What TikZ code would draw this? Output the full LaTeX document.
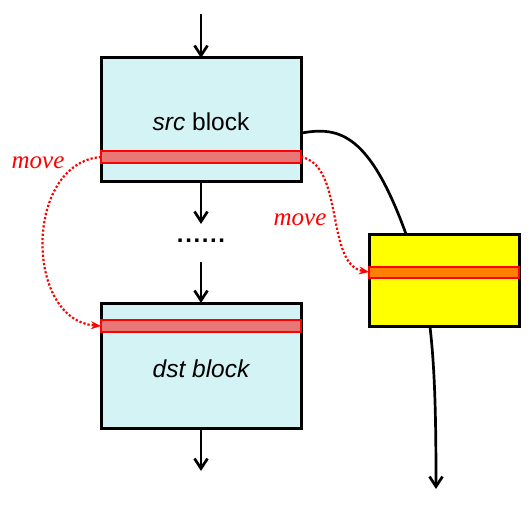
\documentclass[tikz,border=0pt]{standalone}
\usepackage{fontspec}
\setmainfont{Liberation Sans}
\newfontfamily\serifit{Liberation Serif}
\usetikzlibrary{arrows.meta}
\definecolor{boxcyan}{HTML}{D4F3F5}
\definecolor{stripred}{HTML}{E87878}
\definecolor{stripor}{HTML}{FF8000}
\definecolor{pureyellow}{HTML}{FFFF00}
\begin{document}
\begin{tikzpicture}[x=1pt,y=-1pt,
  blockbox/.style={draw=black,line width=3pt,fill=boxcyan},
  yelbox/.style={draw=black,line width=3pt,fill=pureyellow},
  strip/.style={draw=red,line width=1.3pt,fill=stripred},
  ostrip/.style={draw=red,line width=1.3pt,fill=stripor},
  flow/.style={line width=2.7pt,-{Straight Barb[length=10pt,width=13pt,line width=2.7pt]}},
  plainflow/.style={line width=2.7pt},
  mv/.style={red,line width=2.2pt,dotted,-{Stealth[length=10pt,width=8pt]}},
  mvlabel/.style={red,font=\fontsize{25}{28}\selectfont\serifit\itshape},
  lbl/.style={font=\fontsize{24.5}{28}\selectfont}]
\useasboundingbox (0,0) rectangle (532,505);
% src block
\draw[blockbox] (101,58) rectangle (301,181);
\node[lbl] (srct) at (201,122) {\itshape src\upshape{} block};
\draw[strip] (101,151) rectangle (301,163);
\coordinate (srcL) at (101,157);
\coordinate (srcR) at (301,157);
% dst block
\draw[blockbox] (101,303) rectangle (301,428);
\node[lbl] (dstt) at (201,369) {\itshape dst block};
\draw[strip] (101,320) rectangle (301,332);
\coordinate (dstL) at (101,326);
% yellow block
\draw[yelbox] (369,234) rectangle (519,326);
\draw[ostrip] (369,267) rectangle (519,278);
\coordinate (yelL) at (369,272);
% vertical flow
\coordinate (top) at (201,14);
\coordinate (srcTop) at (201,58);
\coordinate (srcBot) at (201,181);
\coordinate (d1) at (201,224);
\node[font=\fontsize{24}{26}\selectfont\bfseries] (dots) at (201,241) {.\kern1.6pt.\kern1.6pt.\kern1.6pt.\kern1.6pt.\kern1.6pt.};
\coordinate (d2) at (201,262);
\coordinate (dstTop) at (201,303);
\coordinate (dstBot) at (201,428);
\coordinate (endA) at (201,471);
\draw[flow] (top) -- (srcTop);
\draw[flow] (srcBot) -- (d1);
\draw[flow] (d2) -- (dstTop);
\draw[flow] (dstBot) -- (endA);
% side path
\coordinate (srcRight) at (302,133);
\coordinate (yelTop) at (406,234);
\draw[plainflow] (srcRight) .. controls (340,126) and (370,135) .. (yelTop);
\coordinate (yelBot) at (430,327);
\coordinate (endB) at (436,489);
\draw[flow] (yelBot) .. controls (435,370) and (436,420) .. (endB);
% move arrows
\draw[mv] (srcL) .. controls (24,163) and (24,320) .. (dstL);
\node[mvlabel] (mv1) at (38,163) {move};
\draw[mv] (srcR) .. controls (345,165) and (325,265) .. (yelL);
\node[mvlabel] (mv2) at (300,220) {move};
\end{tikzpicture}
\end{document}
